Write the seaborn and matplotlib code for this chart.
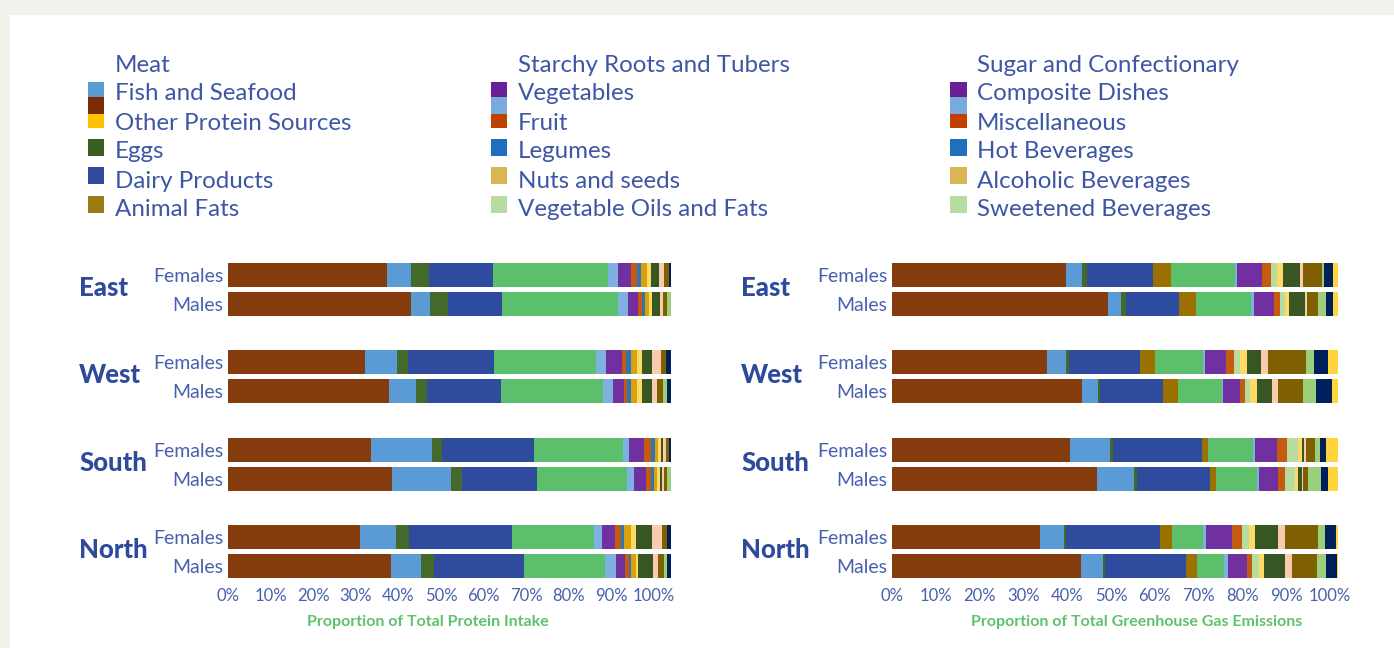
import numpy as np
import pandas as pd
import matplotlib
matplotlib.use("Agg")
import matplotlib.pyplot as plt
import matplotlib.transforms as mtransforms
import seaborn as sns
from matplotlib.patches import Rectangle

# ---------------- data ----------------
regions = ["East", "West", "South", "North"]
sexes = ["Females", "Males"]

segments = ["Meat", "Fish and Seafood", "Eggs", "Dairy Products", "Animal Fats",
            "Cereals and Grains", "Starchy Roots and Tubers", "Vegetables", "Fruit",
            "Legumes", "Nuts and seeds", "Vegetable Oils and Fats",
            "Sugar and Confectionary", "Composite Dishes", "Miscellaneous",
            "Hot Beverages", "Alcoholic Beverages", "Sweetened Beverages",
            "Other Protein Sources"]
seg_colors = ["#843c0c", "#5b9bd5", "#44692b", "#2f4b9e", "#9a7000",
              "#5bbf6c", "#7fb1e0", "#7030a0", "#c55a11",
              "#2e75b6", "#d9a20c", "#b7dca0",
              "#ffd966", "#375623", "#f8cbad",
              "#7f6000", "#9ccf7c", "#00205b",
              "#ffd43b"]

# Proportion of total protein intake (%)
prot_east_females = [37.4, 5.6, 4.2, 15.0, 0, 27.1, 2.3, 3.1, 1.4, 0.8, 1.5, 0, 0.8, 2.0, 1.2, 1.2, 0, 0.3, 0]
prot_east_males = [43.0, 4.4, 4.3, 12.7, 0, 27.1, 2.4, 2.4, 1.0, 0.6, 0.9, 0, 0.7, 1.9, 0.8, 0.9, 0.8, 0, 0]
prot_west_females = [32.2, 7.4, 2.7, 20.1, 0, 24.1, 2.3, 3.6, 1.1, 1.0, 1.6, 0, 1.2, 2.3, 2.0, 1.1, 0, 1.2, 0]
prot_west_males = [37.8, 6.4, 2.4, 17.4, 0, 24.0, 2.4, 2.6, 0.7, 0.8, 1.6, 0, 1.0, 2.4, 1.3, 1.2, 1.1, 0.8, 0]
prot_south_females = [33.5, 14.3, 2.5, 21.5, 0, 20.9, 1.4, 3.6, 1.5, 1.0, 0.8, 0, 0.6, 0.5, 0.6, 0.8, 0, 0.4, 0]
prot_south_males = [38.6, 13.8, 2.6, 17.6, 0, 21.0, 1.7, 2.9, 1.0, 0.8, 0.8, 0, 0.5, 0.5, 0.6, 0.7, 0.8, 0, 0]
prot_north_females = [30.9, 8.5, 3.2, 24.0, 0, 19.2, 2.1, 2.9, 1.5, 0.7, 1.5, 0, 1.2, 3.9, 2.2, 1.3, 0, 0.8, 0]
prot_north_males = [38.3, 7.1, 3.0, 21.1, 0, 18.9, 2.6, 2.1, 1.0, 0.6, 1.0, 0, 0.6, 3.5, 1.2, 1.3, 0.8, 0.8, 0]

# Proportion of total greenhouse gas emissions (%)
ghg_east_females = [39.7, 3.6, 1.3, 14.9, 4.3, 14.5, 0.5, 5.6, 2.1, 0, 0, 1.3, 1.4, 4.0, 0.6, 4.3, 0.6, 1.9, 1.3]
ghg_east_males = [49.4, 2.8, 1.2, 12.2, 3.8, 12.5, 0.7, 4.6, 1.4, 0, 0, 1.1, 1.0, 3.6, 0.5, 2.5, 1.8, 1.6, 1.2]
ghg_west_females = [35.3, 4.4, 0.6, 16.3, 3.4, 10.9, 0.6, 4.7, 1.9, 0, 0, 1.4, 1.5, 3.3, 1.6, 8.6, 1.8, 3.3, 2.3]
ghg_west_males = [43.3, 3.8, 0.5, 14.2, 3.4, 10.1, 0.3, 3.9, 1.0, 0, 0, 1.2, 1.6, 3.4, 1.5, 5.6, 3.0, 3.6, 1.5]
ghg_south_females = [40.6, 9.2, 0.7, 20.3, 1.4, 10.3, 0.4, 4.9, 2.3, 0, 0, 2.6, 0.8, 0.6, 0.4, 2.1, 1.1, 1.5, 2.7]
ghg_south_males = [46.8, 8.5, 0.6, 16.7, 1.4, 9.3, 0.6, 4.2, 1.6, 0, 0, 2.4, 0.6, 0.8, 0.3, 1.2, 2.9, 1.7, 2.3]
ghg_north_females = [33.8, 5.5, 0.4, 21.5, 2.7, 7.1, 0.7, 5.9, 2.2, 0, 0, 1.6, 1.5, 5.3, 1.5, 7.6, 1.6, 2.5, 0.5]
ghg_north_males = [43.2, 5.0, 0.4, 18.5, 2.5, 6.2, 0.9, 4.4, 1.2, 0, 0, 1.5, 1.1, 4.8, 1.6, 5.8, 2.1, 2.3, 0.4]

protein_rows = [prot_east_females, prot_east_males, prot_west_females, prot_west_males,
                prot_south_females, prot_south_males, prot_north_females, prot_north_males]
ghg_rows = [ghg_east_females, ghg_east_males, ghg_west_females, ghg_west_males,
            ghg_south_females, ghg_south_males, ghg_north_females, ghg_north_males]

legend_col1 = ["Meat", "Fish and Seafood", "Other Protein Sources", "Eggs", "Dairy Products", "Animal Fats"]
legend_col2 = ["Starchy Roots and Tubers", "Vegetables", "Fruit", "Legumes", "Nuts and seeds", "Vegetable Oils and Fats"]
legend_col3 = ["Sugar and Confectionary", "Composite Dishes", "Miscellaneous", "Hot Beverages", "Alcoholic Beverages", "Sweetened Beverages"]
legend_sw1 = ["#5b9bd5", "#7b2c00", "#ffc000", "#3a5e1f", "#2f4b9e", "#9c7a14"]
legend_sw2 = ["#6a1f9a", "#78aadc", "#c04000", "#1f6fbf", "#dab554", "#b8dba0"]

x_titles = ["Proportion of Total Protein Intake", "Proportion of Total Greenhouse Gas Emissions"]

# ---------------- style ----------------
sns.set_theme(style="white")
plt.rcParams["font.family"] = ["Lato", "DejaVu Sans"]

W, H = 1394, 648
fig = plt.figure(figsize=(W / 100, H / 100), dpi=100)
fig.patch.set_facecolor("#f2f2ec")
fig.patches.append(Rectangle((10 / W, 0), 1 - 10 / W, 1 - 15 / H, transform=fig.transFigure,
                             facecolor="white", edgecolor="none", zorder=-10))

TXT = "#3d56a6"
TICK = "#4760ad"
REG = "#2d4a9b"
GREEN = "#5ec26d"

# row order (with gap rows between regions)
order = []
tick_txt = []
for gi, r in enumerate(regions):
    for s in sexes:
        order.append(f"{r} {s}")
        tick_txt.append(s)
    if gi < len(regions) - 1:
        order.append(" " * (gi + 1))
        tick_txt.append("")
bar_labels = [f"{r} {s}" for r in regions for s in sexes]


def fx(px):
    return px / W


def fy(py):
    return 1 - py / H


ax_bottom = fy(580.5)
ax_height = fy(260.5) - fy(580.5)

panels = [
    (protein_rows, 228, 104, 4.26, 79, 428),
    (ghg_rows, 892, 102, 4.38, 741, 1136.5),
]

for pi, (rows, x0px, xmax, pxu, reg_x, title_x) in enumerate(panels):
    ax = fig.add_axes([fx(x0px), ax_bottom, fx(xmax * pxu), ax_height], zorder=1)
    vals = np.array(rows, dtype=float)
    cum = np.cumsum(vals, axis=1)
    for i in reversed(range(len(segments))):
        df = pd.DataFrame({"row": bar_labels, "value": cum[:, i]})
        sns.barplot(data=df, x="value", y="row", order=order, orient="h",
                    color=seg_colors[i], saturation=1, width=0.82,
                    errorbar=None, linewidth=0, ax=ax)
    ax.set_xlim(0, xmax)
    ax.set_ylim(len(order) - 0.5, -0.5)
    ax.set_facecolor("none")
    for sp in ax.spines.values():
        sp.set_visible(False)
    ax.set_xlabel("")
    ax.set_ylabel("")
    ax.set_xticks(list(range(0, 101, 10)))
    ax.set_xticklabels([f"{v}%" for v in range(0, 101, 10)], fontsize=12, color=TICK)
    ax.set_yticks(range(len(order)))
    ax.set_yticklabels(tick_txt, fontsize=14, color=TICK)
    ax.tick_params(axis="both", length=0)
    ax.tick_params(axis="x", pad=5.5)
    ax.tick_params(axis="y", pad=3.5)
    # region labels
    trans = mtransforms.blended_transform_factory(fig.transFigure, ax.transData)
    for gi, r in enumerate(regions):
        ax.text(fx(reg_x), gi * 3 + 0.45, r, transform=trans,
                fontsize=18.5, fontweight="black", color=REG, ha="left", va="center")
    fig.text(fx(title_x), fy(622), x_titles[pi], fontsize=11.5, fontweight="bold",
             color=GREEN, ha="center", va="center")

# ---------------- legend (drawn as figure artists) ----------------
row_y = [65, 94, 123, 152, 181, 209]
text_x = [115, 518, 977]
sw_x = [87.5, 490.5, 950]
sw_w = 16.5
sw_rows = [(81.7, 96.7), (96.7, 114), (114, 127.7), (139, 156), (167, 184), (195.7, 212.7)]
for ci, (labels, cols) in enumerate(zip([legend_col1, legend_col2, legend_col3],
                                        [legend_sw1, legend_sw2, legend_sw2])):
    for ri, lab in enumerate(labels):
        fig.text(fx(text_x[ci]), fy(row_y[ri]), lab, fontsize=17.4, color=TXT,
                 ha="left", va="center")
    for (ytop, ybot), c in zip(sw_rows, cols):
        fig.patches.append(Rectangle((fx(sw_x[ci]), fy(ybot)), fx(sw_w), fy(ytop) - fy(ybot),
                                     transform=fig.transFigure, facecolor=c,
                                     edgecolor="none", zorder=2))

fig.savefig("out.png", dpi=100, facecolor=fig.get_facecolor())
